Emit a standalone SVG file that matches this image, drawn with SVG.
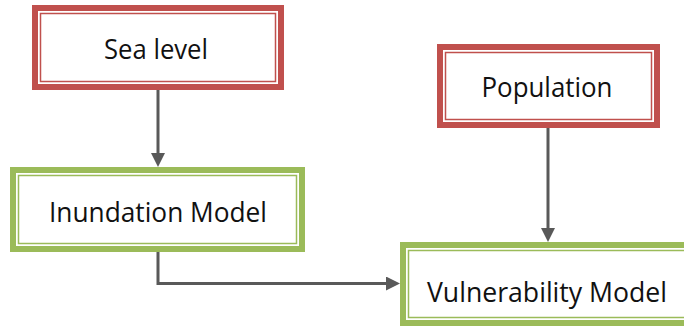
<svg xmlns="http://www.w3.org/2000/svg" width="684" height="331" viewBox="0 0 684 331">
  <style>
    .frame-outer { fill: #ffffff; stroke-width: 6; }
    .frame-inner { fill: none; stroke-width: 1.5; }
    .red { stroke: #C0504D; }
    .green { stroke: #9BBB59; }
    .label { font-family: "Open Sans", "Liberation Sans", sans-serif; font-size: 27px; fill: #111111; text-anchor: middle; }
    .link { fill: none; stroke: #595959; stroke-width: 3; marker-end: url(#arrow); }
  </style>
  <defs>
    <marker id="arrow" markerUnits="userSpaceOnUse" markerWidth="14" markerHeight="14" refX="8" refY="7" orient="auto">
      <path d="M0,0 L14,7 L0,14 z" fill="#595959"/>
    </marker>
  </defs>

  <rect width="684" height="331" fill="#ffffff"/>

  <g id="connectors">
    <path class="link" d="M158,90 L158,161"/>
    <path class="link" d="M548,128 L548,236"/>
    <path class="link" d="M158,252 L158,283.5 L394,283.5"/>
  </g>

  <g id="sea-level">
    <rect class="frame-outer red" x="35" y="8" width="246" height="79"/>
    <rect class="frame-inner red" x="40.5" y="13.5" width="235" height="68"/>
    <text class="label" x="156" y="59" textLength="104" lengthAdjust="spacingAndGlyphs">Sea level</text>
  </g>

  <g id="population">
    <rect class="frame-outer red" x="440" y="47" width="217" height="78"/>
    <rect class="frame-inner red" x="445.5" y="52.5" width="206" height="67"/>
    <text class="label" x="547" y="97" textLength="131" lengthAdjust="spacingAndGlyphs">Population</text>
  </g>

  <g id="inundation-model">
    <rect class="frame-outer green" x="13" y="170" width="289" height="79"/>
    <rect class="frame-inner green" x="18.5" y="175.5" width="278" height="68"/>
    <text class="label" x="158" y="222" textLength="218" lengthAdjust="spacingAndGlyphs">Inundation Model</text>
  </g>

  <g id="vulnerability-model">
    <rect class="frame-outer green" x="403" y="245" width="290" height="78"/>
    <rect class="frame-inner green" x="408.5" y="250.5" width="279" height="67"/>
    <text class="label" x="547" y="302" textLength="240" lengthAdjust="spacingAndGlyphs">Vulnerability Model</text>
  </g>
</svg>
